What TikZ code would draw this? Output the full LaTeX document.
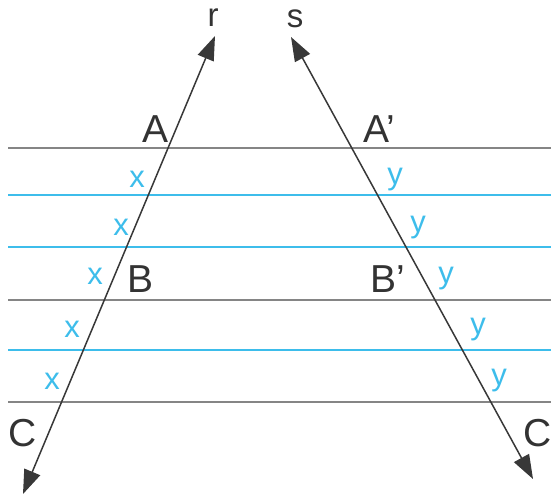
\documentclass[tikz,border=0pt]{standalone}
\usepackage{fontspec}
\setmainfont{Liberation Sans}
\usetikzlibrary{arrows.meta}
\definecolor{lineblue}{HTML}{3DBDEB}
\definecolor{linegray}{HTML}{858585}
\definecolor{darkline}{HTML}{383838}
\tikzset{
  grayline/.style={draw=linegray, line width=2.2pt},
  blueline/.style={draw=lineblue, line width=2.4pt},
  transversal/.style={draw=darkline, line width=1.5pt, {Triangle[length=24pt,width=17pt]}-{Triangle[length=24pt,width=17pt]}},
  ptlabel/.style={inner sep=0pt, text=black!80, font=\fontsize{39}{39}\selectfont},
  linelabel/.style={inner sep=0pt, text=black!80, font=\fontsize{33}{33}\selectfont},
  seglabel/.style={inner sep=0pt, text=lineblue, font=\fontsize{31}{31}\selectfont}
}
\begin{document}
\begin{tikzpicture}[x=1pt,y=-1pt]
\useasboundingbox (0,0) rectangle (553,495);
% horizontal lines
\coordinate (g1a) at (8,148);  \coordinate (g1b) at (551,148);
\coordinate (b1a) at (8,195);  \coordinate (b1b) at (551,195);
\coordinate (b2a) at (8,247);  \coordinate (b2b) at (551,247);
\coordinate (g2a) at (8,300);  \coordinate (g2b) at (551,300);
\coordinate (b3a) at (8,350);  \coordinate (b3b) at (551,350);
\coordinate (g3a) at (8,402);  \coordinate (g3b) at (551,402);
\draw[grayline] (g1a) -- (g1b);
\draw[blueline] (b1a) -- (b1b);
\draw[blueline] (b2a) -- (b2b);
\draw[grayline] (g2a) -- (g2b);
\draw[blueline] (b3a) -- (b3b);
\draw[grayline] (g3a) -- (g3b);
% transversals
\coordinate (rtop) at (215,36);
\coordinate (rbot) at (23,494);
\coordinate (stop) at (291,37);
\coordinate (sbot) at (533,479);
\draw[transversal] (rbot) -- (rtop);
\draw[transversal] (sbot) -- (stop);
% labels
\node[linelabel] (r) at (213,18) {r};
\node[linelabel] (s) at (295,19) {s};
\node[ptlabel] (A) at (155.5,129) {A};
\node[ptlabel] (Ap) at (379,129) {A’};
\node[ptlabel] (B) at (141,279) {B};
\node[ptlabel] (Bp) at (388,279) {B’};
\node[ptlabel] (C1) at (23,433) {C};
\node[ptlabel] (C2) at (538,433) {C};
\node[seglabel] (x1) at (137,179) {x};
\node[seglabel] (x2) at (121,227) {x};
\node[seglabel] (x3) at (95,276) {x};
\node[seglabel] (x4) at (72,329) {x};
\node[seglabel] (x5) at (52,381) {x};
\node[seglabel] (y1) at (395,180) {y};
\node[seglabel] (y2) at (418,228) {y};
\node[seglabel] (y3) at (446,279) {y};
\node[seglabel] (y4) at (478,330) {y};
\node[seglabel] (y5) at (499,381) {y};
\end{tikzpicture}
\end{document}
